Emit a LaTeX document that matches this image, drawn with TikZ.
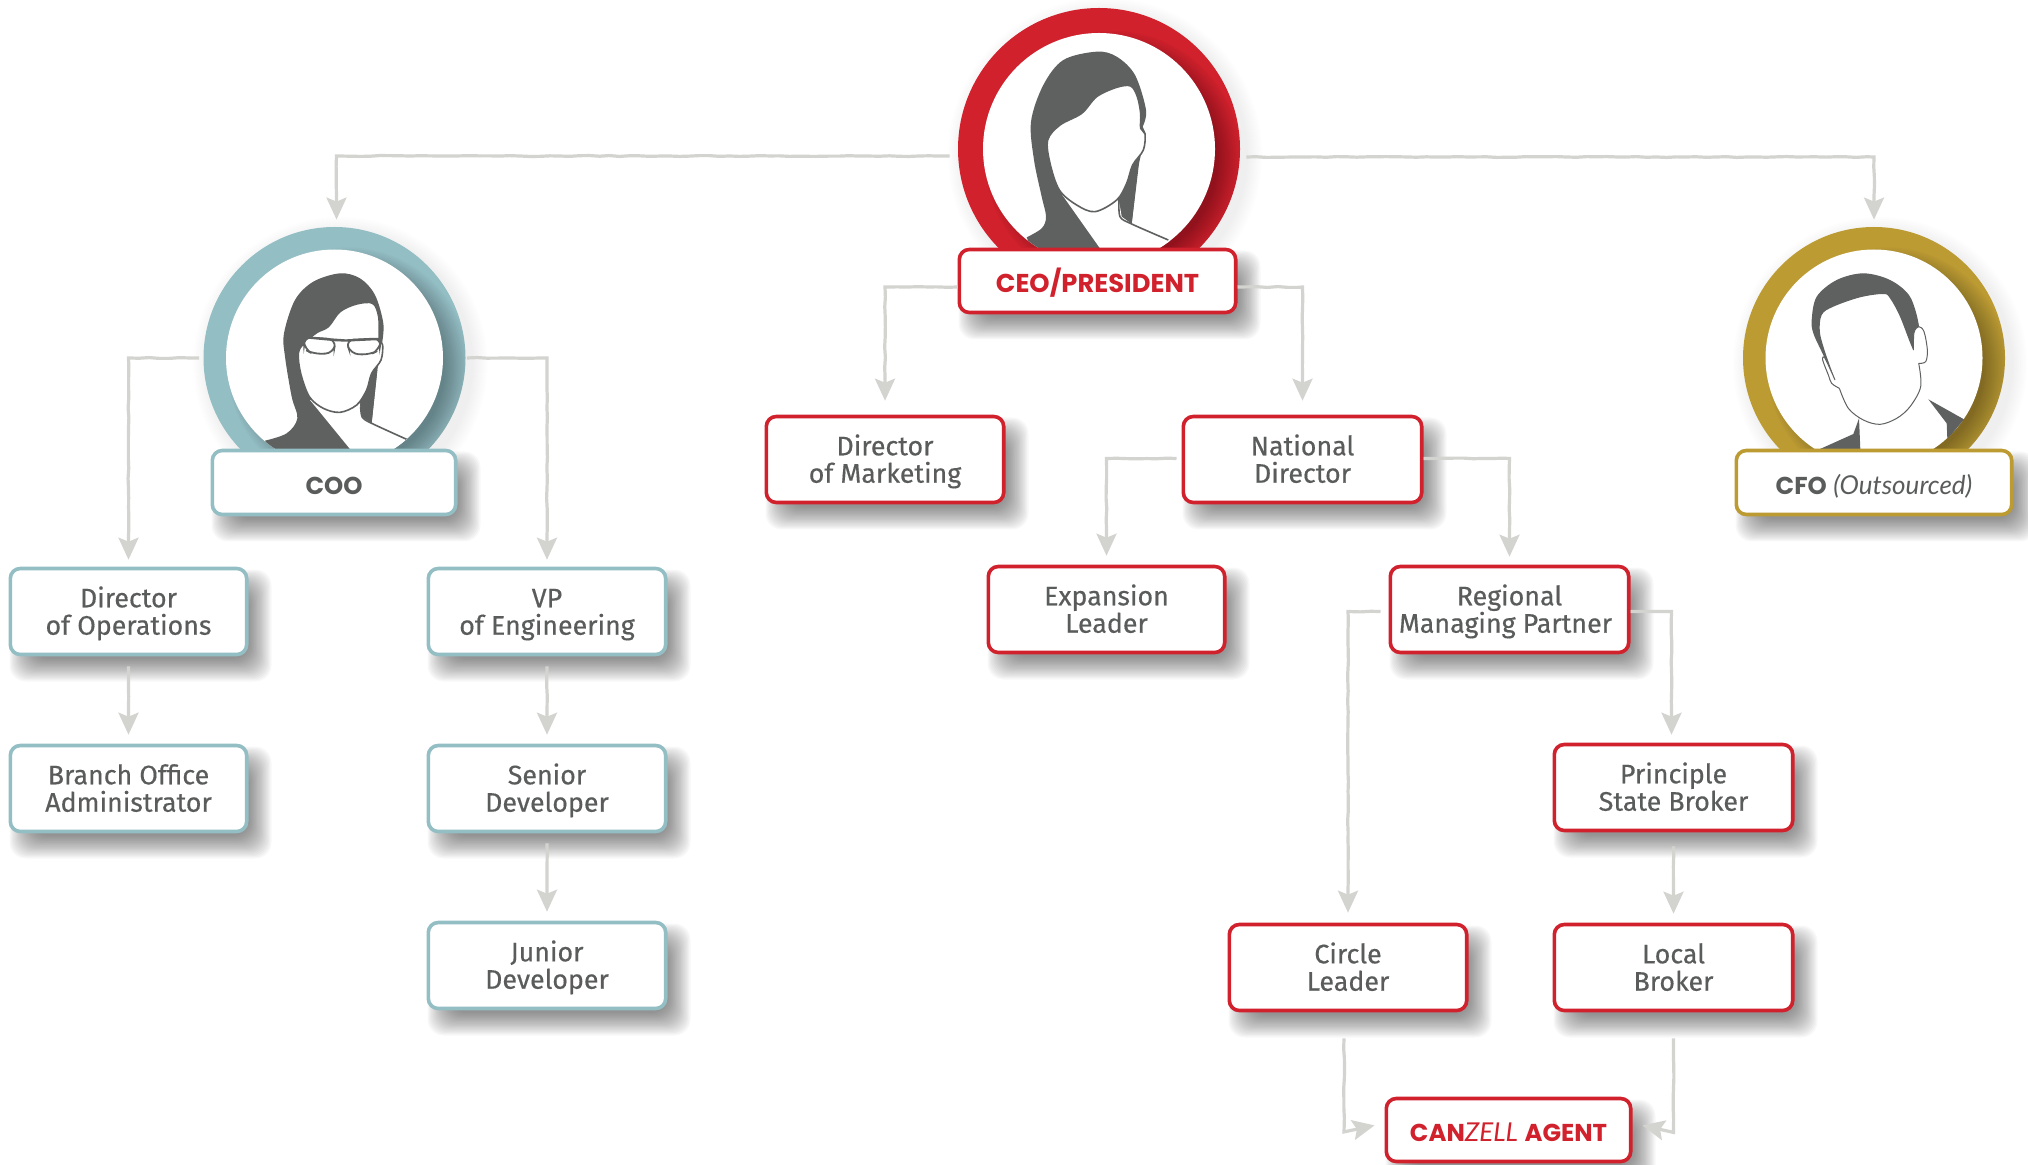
\documentclass[tikz,border=0pt]{standalone}
\usepackage{fontspec}
\setmainfont{Fira Sans}[RawFeature={embolden=0.4}]
\newfontfamily\headfont{Lato}
\newfontfamily\headbold{Poppins}
\usetikzlibrary{arrows.meta,decorations.pathmorphing}
\definecolor{cred}{HTML}{D0212C}
\definecolor{cteal}{HTML}{93BEC4}
\definecolor{cgold}{HTML}{BC9B33}
\definecolor{ctext}{HTML}{5A5C5C}
\definecolor{cline}{HTML}{D3D3CF}
\definecolor{cperson}{HTML}{5F6160}
\tikzset{
  orgbox/.style={draw=#1,fill=white,line width=1.8pt,rounded corners=5pt,inner sep=0pt,align=center,
     text=ctext,font=\fontsize{13.4}{13.7}\selectfont},
  conn/.style={draw=cline,line width=1.6pt,-{Stealth[length=11pt,width=10pt,inset=2pt,fill=cline]},
     decorate,decoration={random steps,segment length=5pt,amplitude=.22pt,post=lineto,post length=12pt}},
  hairfill/.style={fill=cperson,draw=none},
  skin/.style={fill=white,draw=cperson,line width=.8pt},
  persondraw/.style={draw=cperson,line width=.8pt},
  zoomed/.style={x=0.166667pt,y=-0.166667pt}
}
\newcommand\twolines[2]{\rule{0pt}{13pt}#1\\#2\rule[-3.5pt]{0pt}{3.5pt}}
\newcommand\headtext[1]{\raisebox{-5.8pt}[0pt][0pt]{\fontsize{12.2}{14}\selectfont #1}}
\newcommand\hb[1]{{\headbold\bfseries #1}}
\newcommand\softshadow[4]{%
  \foreach \i in {0,...,19}{%
    \pgfmathsetmacro\shexp{11.5-1.2*\i}%
    \fill[black,opacity=.026,rounded corners=8pt] ({#1+12-\shexp},{#2+14-\shexp}) rectangle ({#3+12+\shexp},{#4+14+\shexp});
  }}
\newcommand\orgnode[7]{%
  \softshadow{#2}{#3}{#4}{#5}%
  \pgfmathsetmacro\bcx{(#2+#4)/2}\pgfmathsetmacro\bcy{(#3+#5)/2}%
  \pgfmathsetmacro\bwid{(#4-#2)/2-1.3}\pgfmathsetmacro\bhgt{(#5-#3)/2-1.5}%
  \node[orgbox=#6,minimum width=\bwid pt,minimum height=\bhgt pt] (#1) at (\bcx,\bcy) {#7};
}
\newcommand\ringnode[6]{%
  \foreach \i in {0,...,7}{%
    \fill[black,opacity=.008] ({#2+6},{#3+6}) circle [radius={#4+16-2*\i}];
  }
  \pgfmathsetmacro\rdia{#4}%
  \node[circle,fill=#6,inner sep=0pt,minimum size=\rdia pt] (#1) at (#2,#3) {};
  \begin{scope}
    \clip (#2,#3) circle [radius=#4];
    \foreach \i in {0,...,15}{%
      \fill[black,opacity=.02] ({#2+14},{#3+10}) circle [radius={#5+12-1.6*\i}];
    }
    \fill[white] (#2,#3) circle [radius=#5];
  \end{scope}
}
\begin{document}
\begin{tikzpicture}[x=0.5pt,y=-0.5pt]
\useasboundingbox (0,0) rectangle (2028,1165);
\pgfmathsetseed{7}
% ---------- CEO
\ringnode{ceoring}{1099}{149}{141}{116}{cred}
\begin{scope}
\clip (1099,149) circle [radius=116];
\begin{scope}[shift={(900,0)},zoomed]
\fill[hairfill] plot[smooth,tension=.55] coordinates {(380,712) (425,685) (438,650) (425,590) (402,480) (393,365) (430,255) (490,180) (590,155) (650,170) (705,225) (738,330) (728,380)}
   -- (737,400) -- (717,490) -- (695,672) -- (660,700) -- (600,760) -- (400,760) -- cycle;
\fill[white] (487,585) -- (600,745) -- (810,745) -- (810,722) -- (695,672) -- (665,650) -- (655,590) -- cycle;
\draw[persondraw] plot[smooth,tension=.5] coordinates {(657,595) (660,650) (695,672) (805,720)};
\fill[hairfill] (655,590) -- (715,490) -- (695,670) -- (668,650) -- cycle;
\draw[skin] plot[smooth cycle,tension=.55] coordinates {(443,420) (480,375) (545,340) (590,290) (650,262) (692,258) (712,290) (722,340) (722,385) (735,402) (730,450) (698,495) (680,550) (650,600) (585,635) (530,615) (478,570) (450,490)};
\end{scope}
\end{scope}
\orgnode{ceo}{958}{248}{1237}{314}{cred}{\headtext{\fontsize{12.9}{14}\selectfont\textcolor{cred}{\hb{CEO/PRESIDENT}}}}
% ---------- COO
\ringnode{cooring}{334.5}{358}{131}{108.5}{cteal}
\begin{scope}
\clip (334.5,358) circle [radius=108.5];
\begin{scope}[shift={(180,210)},zoomed]
\fill[hairfill] plot[smooth,tension=.55] coordinates {(255,692) (320,670) (352,625) (335,560) (315,440) (312,370) (345,270) (400,215) (480,190) (540,205) (585,255) (610,340) (606,400)}
   -- (592,480) -- (575,638) -- (545,680) -- (510,730) -- (280,730) -- cycle;
\fill[white] (390,570) -- (510,717) -- (690,717) -- (690,690) -- (575,640) -- (545,620) -- (540,580) -- cycle;
\draw[persondraw] plot[smooth,tension=.5] coordinates {(542,590) (547,622) (575,640) (680,688)};
\fill[hairfill] (540,585) -- (592,480) -- (575,638) -- (552,625) -- cycle;
\draw[skin] plot[smooth cycle,tension=.55] coordinates {(355,430) (372,400) (410,368) (445,350) (480,305) (530,282) (578,280) (596,320) (598,385) (608,405) (603,450) (575,490) (560,540) (530,585) (480,607) (430,595) (388,560) (362,490)};
\draw[fill=white,draw=cperson,line width=.9pt,rounded corners=4pt] (371,381) -- (468,388) -- (460,430) -- (400,432) -- (373,418) -- cycle;
\draw[fill=white,draw=cperson,line width=.9pt,rounded corners=4pt] (497,390) -- (604,385) -- (598,420) -- (570,434) -- (512,432) -- cycle;
\fill[cperson] (371,379) -- (468,386) -- (497,388) -- (606,383) -- (604,390) -- (497,395) -- (468,394) -- (372,385) -- cycle;
\end{scope}
\end{scope}
\orgnode{coo}{211}{449}{457}{516}{cteal}{\headtext{\hb{COO}}}
% ---------- CFO
\ringnode{cforing}{1874}{358}{131}{108.5}{cgold}
\begin{scope}
\clip (1874.5,358) circle [radius=108.5];
\begin{scope}[shift={(1720,210)},zoomed]
\fill[hairfill] plot[smooth,tension=.55] coordinates {(345,510) (305,425) (280,370) (275,330) (290,260) (350,210) (430,190) (510,210) (570,260) (597,350) (582,375) (580,420) (540,320) (510,265) (490,252) (420,262) (340,290) (305,315) (300,370) (320,440)};
\draw[persondraw,line width=.5pt,fill=white] plot[smooth,tension=.55] coordinates {(580,420) (582,368) (596,350) (612,365) (622,420) (617,455) (596,460)};
\draw[persondraw,line width=.5pt,fill=white] plot[smooth,tension=.55] coordinates {(345,510) (315,445) (308,450) (325,495) (335,520) (358,535)};
\draw[persondraw,line width=.5pt] plot[smooth,tension=.55] coordinates {(596,460) (602,530) (570,590) (530,625) (480,643) (430,630) (385,595) (358,535)};
\fill[hairfill] (300,717) -- (400,672) -- (417,625) -- (421,720) -- cycle;
\fill[hairfill] (625,568) -- (732,628) -- (682,688) -- (680,640) -- cycle;
\end{scope}
\end{scope}
\orgnode{cfo}{1735}{449}{2013}{516}{cgold}{\headtext{\hb{CFO} {\fontsize{13}{14}\selectfont\headfont\itshape (Outsourced)}}}
% ---------- left branch
\orgnode{ops}{9}{567}{248}{656}{cteal}{\twolines{Director}{of Operations}}
\orgnode{vp}{427}{567}{667}{656}{cteal}{\twolines{VP}{of Engineering}}
\orgnode{branch}{9}{744}{248}{833}{cteal}{\twolines{Branch Office}{Administrator}}
\orgnode{senior}{427}{744}{667}{833}{cteal}{\twolines{Senior}{Developer}}
\orgnode{junior}{427}{921}{667}{1010}{cteal}{\twolines{Junior}{Developer}}
% ---------- centre branch
\orgnode{mkt}{765}{415}{1005}{504}{cred}{\twolines{Director}{of Marketing}}
\orgnode{nat}{1182}{415}{1423}{504}{cred}{\twolines{National}{Director}}
\orgnode{exp}{987}{565}{1226}{654}{cred}{\twolines{Expansion}{Leader}}
\orgnode{reg}{1389}{565}{1630}{654}{cred}{\twolines{Regional}{Managing Partner\hspace*{4pt}}}
\orgnode{psb}{1553}{743}{1794}{832}{cred}{\twolines{Principle}{State Broker}}
\orgnode{circ}{1228}{923}{1468}{1012}{cred}{\twolines{Circle}{Leader}}
\orgnode{loc}{1553}{923}{1794}{1012}{cred}{\twolines{Local}{Broker}}
\orgnode{agent}{1385}{1097}{1632}{1163}{cred}{\headtext{\color{cred}\hb{CAN}{\fontsize{13}{14}\selectfont\headfont\itshape ZELL} \hb{AGENT}}}
% ---------- connectors
\draw[conn] ([shift={(-4pt,-3.5pt)}]ceoring.west) -| ([shift={(1pt,3.5pt)}]cooring.north);
\draw[conn] ([shift={(3pt,-4pt)}]ceoring.east) -| ([yshift=3.5pt]cforing.north);
\draw[conn] ([yshift=-3pt]ceo.west) -| ([yshift=7pt]mkt.north);
\draw[conn] ([yshift=-3pt]ceo.east) -| ([yshift=7pt]nat.north);
\draw[conn] ([xshift=-2pt]cooring.west) -| ([yshift=3.5pt]ops.north);
\draw[conn] ([xshift=.5pt]cooring.east) -| ([yshift=3.5pt]vp.north);
\draw[conn] ([xshift=-2.5pt,yshift=.5pt]nat.west) -| ([yshift=4.5pt]exp.north);
\draw[conn] ([yshift=.5pt]nat.east) -| ([yshift=4pt]reg.north);
\draw[conn] ([xshift=-4pt,yshift=-1pt]reg.west) -| ([yshift=5pt]circ.north);
\draw[conn] ([yshift=-1pt]reg.east) -| ([shift={(-1pt,4pt)}]psb.north);
\draw[conn] ([yshift=-5pt]ops.south) -- ([yshift=4.5pt]branch.north);
\draw[conn] ([yshift=-5pt]vp.south) -- ([yshift=4.5pt]senior.north);
\draw[conn] ([yshift=-5pt]senior.south) -- ([yshift=4.5pt]junior.north);
\draw[conn] ([yshift=-7pt]psb.south) -- ([yshift=4.5pt]loc.north);
\draw[conn] ([shift={(-2pt,-13pt)}]circ.south) |- ([shift={(-5pt,2.3pt)}]agent.west);
\draw[conn] ([yshift=-13pt]loc.south) |- ([shift={(5pt,2.3pt)}]agent.east);
\end{tikzpicture}
\end{document}
